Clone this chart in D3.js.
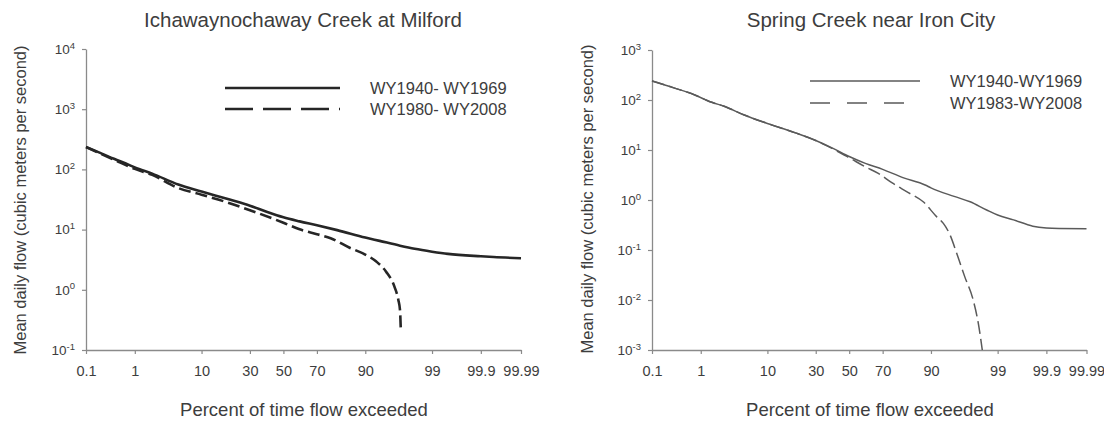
<!DOCTYPE html>
<html><head><meta charset="utf-8">
<script src="https://cdn.jsdelivr.net/npm/d3@7"></script>
<style>
html,body{margin:0;padding:0;background:#fff;}
svg{display:block;font-family:"Liberation Sans",Arial,sans-serif;}
</style></head>
<body>
<svg id="chart" width="1104" height="423"></svg>
<script>
// ---------------- DATA ----------------
const xTickPct = [0.1, 1, 10, 30, 50, 70, 90, 99, 99.9, 99.99];
const xTickLabels = ["0.1", "1", "10", "30", "50", "70", "90", "99", "99.9", "99.99"];

const milfordTitle = "Ichawaynochaway Creek at Milford";
const milfordSeriesNames = ["WY1940- WY1969", "WY1980- WY2008"];
const milfordYExp = [-1, 0, 1, 2, 3, 4];
const milfordEarlyPct  = [0.1, 0.2, 0.4, 0.8, 1, 2, 5, 10, 20, 30, 40, 50, 60, 70, 80, 90, 93.4, 96.6, 98, 99, 99.5, 99.9, 99.95, 99.99];
const milfordEarlyFlow = [235, 190, 150, 118, 108, 85, 56, 43, 31.5, 25, 19.6, 16, 13.7, 11.8, 9.8, 7.4, 6.5, 5.4, 4.8, 4.3, 3.95, 3.6, 3.5, 3.35];
const milfordLatePct  = [0.1, 0.4, 1, 2, 5, 10, 20, 30, 50, 60, 70, 77, 85, 90, 92.7, 94.6, 95.9, 96.4, 96.6, 96.7];
const milfordLateFlow = [235, 145, 102, 81, 49, 38, 27.5, 21, 13, 10.1, 8.4, 7.2, 5.0, 3.85, 2.95, 2.0, 1.12, 0.68, 0.46, 0.2];

const springTitle = "Spring Creek near Iron City";
const springSeriesNames = ["WY1940-WY1969", "WY1983-WY2008"];
const springYExp = [-3, -2, -1, 0, 1, 2, 3];
const springEarlyPct  = [0.1, 0.3, 0.78, 1.2, 1.56, 2.5, 5, 10, 20, 30, 40, 50, 60, 70, 80, 88.3, 90, 95, 97.1, 98.44, 99, 99.5, 99.8, 99.9, 99.95, 99.99];
const springEarlyFlow = [240, 175, 126, 102, 90, 75, 50, 34, 22, 15.5, 10.8, 7.4, 5.4, 4.1, 2.8, 2.0, 1.75, 1.18, 0.92, 0.63, 0.5, 0.4, 0.3, 0.275, 0.268, 0.265];
const springLatePct  = [0.1, 0.3, 0.78, 1.2, 1.56, 2.5, 5, 10, 20, 30, 40, 50, 60, 67.6, 75, 81.6, 87.7, 91.5, 93, 94.3, 95.4, 96.5, 97.4, 97.85, 98.15];
const springLateFlow = [240, 175, 126, 102, 90, 75, 50, 34, 22, 15.5, 10.5, 7.0, 4.6, 3.4, 2.2, 1.47, 0.92, 0.46, 0.34, 0.2, 0.086, 0.029, 0.01, 0.0034, 0.001];

const xTitle = "Percent of time flow exceeded";
const yTitle = "Mean daily flow (cubic meters per second)";

// ------------- normal quantile (probability axis) -------------
function probit(p) {
  const a = [-3.969683028665376e+01, 2.209460984245205e+02, -2.759285104469687e+02, 1.383577518672690e+02, -3.066479806614716e+01, 2.506628277459239e+00];
  const b = [-5.447609879822406e+01, 1.615858368580409e+02, -1.556989798598866e+02, 6.680131188771972e+01, -1.328068155288572e+01];
  const c = [-7.784894002430293e-03, -3.223964580411365e-01, -2.400758277161838e+00, -2.549732539343734e+00, 4.374664141464968e+00, 2.938163982698783e+00];
  const d = [7.784695709041462e-03, 3.224671290700398e-01, 2.445134137142996e+00, 3.754408661907416e+00];
  const plow = 0.02425, phigh = 1 - plow;
  let q, r;
  if (p < plow) {
    q = Math.sqrt(-2 * Math.log(p));
    return (((((c[0]*q+c[1])*q+c[2])*q+c[3])*q+c[4])*q+c[5]) / ((((d[0]*q+d[1])*q+d[2])*q+d[3])*q+1);
  } else if (p <= phigh) {
    q = p - 0.5; r = q * q;
    return (((((a[0]*r+a[1])*r+a[2])*r+a[3])*r+a[4])*r+a[5])*q / (((((b[0]*r+b[1])*r+b[2])*r+b[3])*r+b[4])*r+1);
  } else {
    q = Math.sqrt(-2 * Math.log(1 - p));
    return -(((((c[0]*q+c[1])*q+c[2])*q+c[3])*q+c[4])*q+c[5]) / ((((d[0]*q+d[1])*q+d[2])*q+d[3])*q+1);
  }
}
const z = pct => probit(pct / 100);

const svg = d3.select("#chart");
const textColor = "#3d3d3d";
const axisColor = "#8a8a8a";

function drawChart(cfg) {
  const g = svg.append("g");
  const x = d3.scaleLinear()
    .domain([z(xTickPct[0]), z(xTickPct[xTickPct.length - 1])])
    .range([cfg.left, cfg.right]);
  const y = d3.scaleLog()
    .domain([Math.pow(10, cfg.yExp[0]), Math.pow(10, cfg.yExp[cfg.yExp.length - 1])])
    .range([cfg.bottom, cfg.top]);

  // x axis
  const xa = g.append("g").attr("transform", `translate(0,${cfg.bottom})`)
    .call(d3.axisBottom(x).tickValues(xTickPct.map(z))
      .tickFormat((d, i) => xTickLabels[i]).tickSize(4).tickSizeOuter(0).tickPadding(12));
  // y axis
  const ya = g.append("g").attr("transform", `translate(${cfg.left},0)`)
    .call(d3.axisLeft(y).tickValues(cfg.yExp.map(e => Math.pow(10, e)))
      .tickFormat(() => "").tickSize(4).tickSizeOuter(0).tickPadding(7));
  [xa, ya].forEach(a => {
    a.select(".domain").attr("stroke", axisColor).attr("stroke-width", 1.3);
    a.selectAll(".tick line").attr("stroke", axisColor).attr("stroke-width", 1.2);
    a.selectAll(".tick text").attr("fill", textColor)
      .attr("font-family", '"Liberation Sans",Arial,sans-serif');
  });
  xa.selectAll(".tick text").attr("font-size", "14.5px");
  ya.selectAll(".tick text").attr("font-size", "13.5px").each(function (d) {
    const t = d3.select(this);
    const e = Math.round(Math.log10(d));
    t.text("10");
    t.append("tspan").attr("dy", "-0.55em").attr("font-size", "9.5px").text(String(e));
  });

  const line = d3.line()
    .x(d => x(z(d[0])))
    .y(d => y(d[1]))
    .curve(d3.curveMonotoneX);

  cfg.series.forEach((s, i) => {
    g.append("path")
      .datum(d3.zip(s.pct, s.flow))
      .attr("fill", "none")
      .attr("stroke", cfg.lineColor)
      .attr("stroke-width", cfg.lineWidth)
      .attr("stroke-dasharray", i === 1 ? cfg.dash : null)
      .attr("d", line);
  });

  // legend
  cfg.series.forEach((s, i) => {
    const ly = cfg.legY + i * cfg.legGap;
    g.append("line")
      .attr("x1", cfg.legX1).attr("x2", cfg.legX2).attr("y1", ly).attr("y2", ly)
      .attr("stroke", cfg.lineColor).attr("stroke-width", cfg.lineWidth)
      .attr("stroke-dasharray", i === 1 ? cfg.legDash : null);
    g.append("text").attr("x", cfg.legTextX).attr("y", ly + 5.5)
      .attr("fill", textColor).attr("font-size", "16.5px").text(s.name);
  });

  // titles
  g.append("text").attr("x", cfg.titleX).attr("y", 27).attr("text-anchor", "middle")
    .attr("fill", textColor).attr("font-size", "20.5px").text(cfg.title);
  g.append("text").attr("x", cfg.xTitleX).attr("y", 416).attr("text-anchor", "middle")
    .attr("fill", textColor).attr("font-size", "18.5px").text(xTitle);
  g.append("text").attr("transform", `translate(${cfg.yTitleX},${cfg.yTitleY}) rotate(-90)`)
    .attr("text-anchor", "middle").attr("fill", textColor).attr("font-size", "16.5px").text(yTitle);
}

drawChart({
  left: 86, right: 521, top: 49, bottom: 350,
  yExp: milfordYExp, title: milfordTitle, titleX: 303, xTitleX: 304, yTitleX: 26, yTitleY: 200,
  lineColor: "#262626", lineWidth: 2.6, dash: "12,5", legDash: "28,10",
  legX1: 225, legX2: 340, legY: 88, legGap: 21, legTextX: 370,
  series: [
    { name: milfordSeriesNames[0], pct: milfordEarlyPct, flow: milfordEarlyFlow },
    { name: milfordSeriesNames[1], pct: milfordLatePct, flow: milfordLateFlow }
  ]
});

drawChart({
  left: 652, right: 1086.5, top: 50, bottom: 350,
  yExp: springYExp, title: springTitle, titleX: 871, xTitleX: 870, yTitleX: 593, yTitleY: 199,
  lineColor: "#5a5a5a", lineWidth: 1.5, dash: "13,5", legDash: "20,17",
  legX1: 810, legX2: 920, legY: 81, legGap: 22, legTextX: 950,
  series: [
    { name: springSeriesNames[0], pct: springEarlyPct, flow: springEarlyFlow },
    { name: springSeriesNames[1], pct: springLatePct, flow: springLateFlow }
  ]
});
</script>
</body></html>
